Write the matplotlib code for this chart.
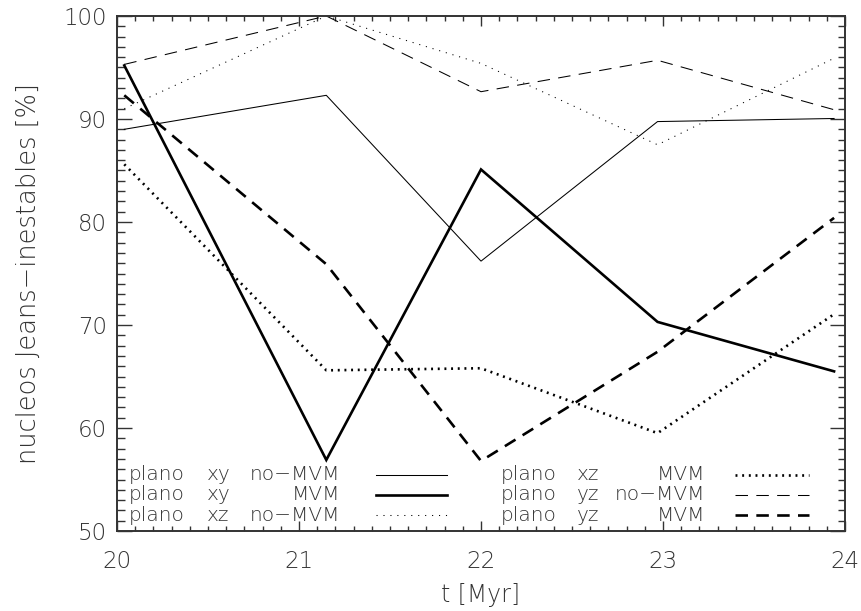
import matplotlib
matplotlib.use("Agg")
import matplotlib.pyplot as plt
from matplotlib import font_manager as fm
from matplotlib.lines import Line2D

# snapshot times [Myr]
t_myr = [20.04, 21.15, 22.00, 22.97, 23.94]

# percentage of Jeans-unstable cores per projection plane
xy_no_mvm = [89.0, 92.3, 76.2, 89.75, 90.05]
xy_mvm = [95.2, 56.9, 85.1, 70.3, 65.5]
xz_no_mvm = [91.0, 100.0, 95.4, 87.5, 95.9]
xz_mvm = [85.6, 65.6, 65.8, 59.5, 71.05]
yz_no_mvm = [95.3, 100.0, 92.65, 95.7, 90.9]
yz_mvm = [92.3, 75.9, 56.8, 67.4, 80.4]

x_ticks = [20, 21, 22, 23, 24]
y_ticks = [50, 60, 70, 80, 90, 100]


def light_font():
    """Pick a thin sans face if one is installed."""
    def as_int(w):
        if isinstance(w, str):
            return fm.weight_dict.get(w, 400)
        return int(w)
    for fam in ["DejaVu Sans", "Open Sans", "Lato", "Inter", "Roboto", "Noto Sans"]:
        cands = [as_int(f.weight) for f in fm.fontManager.ttflist
                 if f.name == fam and f.style == "normal"
                 and as_int(f.weight) <= 300 and "condensed" not in str(f.stretch)]
        if cands:
            return fam, max(cands)
    return "DejaVu Sans", 400


FAM, WGT = light_font()
plt.rcParams["font.family"] = [FAM, "DejaVu Sans"]
plt.rcParams["font.weight"] = WGT
plt.rcParams["axes.labelweight"] = WGT
plt.rcParams["lines.scale_dashes"] = False

TXT = "#333333"
THIN = 0.75
THICK = 1.9
DOT_THIN = (0, (0.8, 4.2))
DOT_THICK = (0, (1.4, 3.4))
DASH_THIN = (0, (9.0, 6.0))
DASH_THICK = (0, (9.0, 6.0))

fig = plt.figure(figsize=(8.62, 6.11), dpi=100)
ax = fig.add_axes([117 / 862, 1 - 531 / 611, 728 / 862, 515 / 611])

series = [
    (xy_no_mvm, THIN, "-"),
    (xy_mvm, THICK, "-"),
    (xz_no_mvm, THIN, DOT_THIN),
    (xz_mvm, THICK, DOT_THICK),
    (yz_no_mvm, THIN, DASH_THIN),
    (yz_mvm, THICK, DASH_THICK),
]
for vals, lw, ls in series:
    ax.plot(t_myr, vals, color="black", lw=lw, linestyle=ls,
            dash_capstyle="butt", solid_joinstyle="miter")

ax.set_xlim(20, 24)
ax.set_ylim(50, 100)
ax.set_xticks(x_ticks)
ax.set_yticks(y_ticks)
ax.set_xticks([20 + 0.1 * i for i in range(41)], minor=True)
ax.set_yticks(list(range(50, 101)), minor=True)
ax.set_xticklabels([str(v) for v in x_ticks])
ax.set_yticklabels([str(v) for v in y_ticks])

ax.tick_params(axis="both", which="both", direction="in", top=True, right=True,
               color="#333333", labelcolor=TXT, labelsize=16.5)
ax.tick_params(axis="x", which="major", length=7.0, width=1.0, pad=14)
ax.tick_params(axis="x", which="minor", length=3.6, width=1.0)
ax.tick_params(axis="y", which="major", length=10.8, width=1.0, pad=7)
ax.tick_params(axis="y", which="minor", length=5.4, width=1.0)
for sp in ax.spines.values():
    sp.set_color("#333333")
    sp.set_linewidth(1.4)

ax.set_xlabel("t [Myr]", fontsize=17, color=TXT, fontweight=WGT, labelpad=7)
fig.text(28 / 862, 1 - 273.5 / 611, "nucleos Jeans\u2212inestables [%]",
         rotation=90, ha="center", va="center", fontsize=18.5, color=TXT,
         fontweight=WGT)

# key: two columns of labels with line samples
rows_y = [0.109, 0.070, 0.031]
key_left = [
    ("xy", "no\u2212MVM", THIN, "-"),
    ("xy", "MVM", THICK, "-"),
    ("xz", "no\u2212MVM", THIN, DOT_THIN),
]
key_right = [
    ("xz", "MVM", THICK, DOT_THICK),
    ("yz", "no\u2212MVM", THIN, DASH_THIN),
    ("yz", "MVM", THICK, DASH_THICK),
]
cols = [
    (key_left, 0.016, 0.123, 0.306, 0.356, 0.453),
    (key_right, 0.527, 0.632, 0.808, 0.849, 0.950),
]
kw = dict(transform=ax.transAxes, fontsize=14.5, color=TXT, va="center",
          fontweight=WGT)
for entries, x_plano, x_plane, x_end, s0, s1 in cols:
    for (plane, kind, lw, ls), yy in zip(entries, rows_y):
        ax.text(x_plano, yy, "plano", ha="left", **kw)
        ax.text(x_plane, yy, plane, ha="left", **kw)
        ax.text(x_end, yy, kind, ha="right", **kw)
        ax.add_line(Line2D([s0, s1], [yy, yy], transform=ax.transAxes,
                           color="black", lw=lw, linestyle=ls,
                           dash_capstyle="butt"))

fig.savefig("out.png", dpi=100)
